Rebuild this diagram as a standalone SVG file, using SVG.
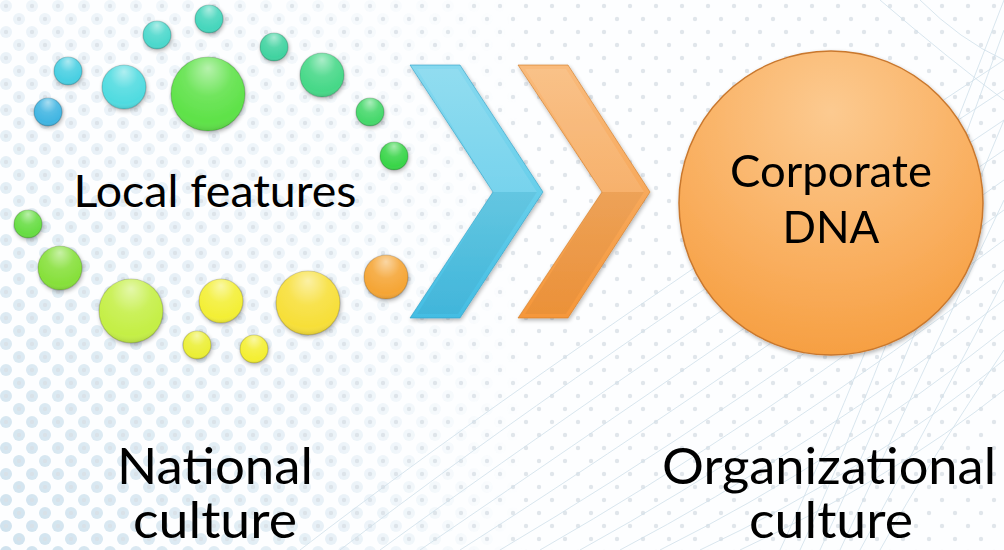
<svg xmlns="http://www.w3.org/2000/svg" width="1004" height="550" viewBox="0 0 1004 550">
  <defs>
    <style>
      .lbl { font-family: "Lato", "Open Sans", "Liberation Sans", sans-serif; fill: #000; }
      .ball { stroke: #000; stroke-opacity: 0.18; stroke-width: 1.2; }
      .gloss { fill: url(#gloss); }
      .bgline { fill: none; stroke: #cfe0ea; stroke-width: 1; opacity: 0.8; }
    </style>
    <!-- background dot textures -->
    <pattern id="bigDots" width="26" height="26" patternUnits="userSpaceOnUse">
      <circle cx="6" cy="6" r="6" fill="#cfe2ee"/>
      <circle cx="19" cy="19" r="6" fill="#cfe2ee"/>
    </pattern>
    <pattern id="smallDots" width="26" height="26" patternUnits="userSpaceOnUse">
      <circle cx="6" cy="6" r="2.2" fill="#d9e0e6"/>
      <circle cx="19" cy="19" r="2.2" fill="#d9e0e6"/>
    </pattern>
    <linearGradient id="fadeL" x1="0" y1="0" x2="1" y2="0">
      <stop offset="0" stop-color="#fff" stop-opacity="1"/>
      <stop offset="0.45" stop-color="#fff" stop-opacity="0.5"/>
      <stop offset="0.75" stop-color="#fff" stop-opacity="0"/>
    </linearGradient>
    <linearGradient id="fadeV" x1="0" y1="0" x2="0" y2="1">
      <stop offset="0" stop-color="#fff" stop-opacity="0.35"/>
      <stop offset="1" stop-color="#fff" stop-opacity="1"/>
    </linearGradient>
    <mask id="bigMask">
      <rect width="700" height="550" fill="url(#fadeL)"/>
    </mask>
    <mask id="vMask">
      <rect width="1004" height="550" fill="url(#fadeV)"/>
    </mask>
    <!-- sphere highlight -->
    <radialGradient id="gloss" cx="0.5" cy="0.3" r="0.7" fx="0.5" fy="0.15">
      <stop offset="0" stop-color="#fff" stop-opacity="0.55"/>
      <stop offset="0.45" stop-color="#fff" stop-opacity="0.12"/>
      <stop offset="0.85" stop-color="#fff" stop-opacity="0"/>
      <stop offset="1" stop-color="#000" stop-opacity="0.12"/>
    </radialGradient>
    <linearGradient id="blueG" x1="0" y1="0" x2="0" y2="1">
      <stop offset="0" stop-color="#86d9ef"/>
      <stop offset="0.5" stop-color="#68cfeb"/>
      <stop offset="1" stop-color="#43bde3"/>
    </linearGradient>
    <linearGradient id="orangeG" x1="0" y1="0" x2="0" y2="1">
      <stop offset="0" stop-color="#f9bb7c"/>
      <stop offset="0.5" stop-color="#f7a95c"/>
      <stop offset="1" stop-color="#f5973a"/>
    </linearGradient>
    <radialGradient id="dnaG" cx="0.5" cy="0.2" r="0.9">
      <stop offset="0" stop-color="#fcca90"/>
      <stop offset="0.6" stop-color="#f9ad5c"/>
      <stop offset="1" stop-color="#f59a38"/>
    </radialGradient>
    <filter id="shadow" x="-20%" y="-20%" width="140%" height="140%">
      <feGaussianBlur in="SourceAlpha" stdDeviation="2"/>
      <feOffset dx="1" dy="2" result="b"/>
      <feComponentTransfer><feFuncA type="linear" slope="0.3"/></feComponentTransfer>
      <feMerge><feMergeNode/><feMergeNode in="SourceGraphic"/></feMerge>
    </filter>
  </defs>

  <!-- background -->
  <rect width="1004" height="550" fill="#fdfeff"/>
  <g mask="url(#vMask)">
    <rect width="700" height="550" fill="url(#bigDots)" mask="url(#bigMask)"/>
  </g>
  <rect width="1004" height="550" fill="url(#smallDots)" opacity="0.8"/>
  <g id="sweepLines">
    <path class="bgline" d="M300 550 Q520 380 1004 60"/>
    <path class="bgline" d="M340 550 Q560 380 1004 90"/>
    <path class="bgline" d="M380 550 Q600 390 1004 120"/>
    <path class="bgline" d="M420 550 Q640 400 1004 150"/>
    <path class="bgline" d="M460 550 Q680 410 1004 180"/>
    <path class="bgline" d="M500 550 Q720 420 1004 210"/>
    <path class="bgline" d="M540 550 Q750 430 1004 240"/>
    <path class="bgline" d="M580 550 Q780 440 1004 270"/>
    <path class="bgline" d="M620 550 Q810 450 1004 300"/>
    <path class="bgline" d="M660 550 Q840 460 1004 330"/>
    <path class="bgline" d="M700 550 Q870 470 1004 360"/>
    <path class="bgline" d="M740 550 Q890 480 1004 390"/>
    <path class="bgline" d="M780 550 Q850 400 1004 0"/>
    <path class="bgline" d="M800 550 Q870 400 1004 30"/>
    <path class="bgline" d="M820 550 Q880 420 1004 120"/>
    <path class="bgline" d="M840 550 Q900 420 1004 200"/>
    <path class="bgline" d="M860 550 Q920 440 1004 280"/>
    <path class="bgline" d="M880 550 Q930 460 1004 350"/>
    <path class="bgline" d="M920 0 Q960 40 1004 60"/>
    <path class="bgline" d="M880 0 Q950 60 1004 100"/>
  </g>

  <!-- ring of spheres -->
  <g id="localFeatures" filter="url(#shadow)">
    <g id="ball01"><circle class="ball" cx="209" cy="19" r="14" fill="#45d6bc"/><circle class="gloss" cx="209" cy="19" r="14"/></g>
    <g id="ball02"><circle class="ball" cx="157" cy="35" r="14" fill="#4bd8cc"/><circle class="gloss" cx="157" cy="35" r="14"/></g>
    <g id="ball03"><circle class="ball" cx="274" cy="47" r="14" fill="#40d3a0"/><circle class="gloss" cx="274" cy="47" r="14"/></g>
    <g id="ball04"><circle class="ball" cx="68" cy="71" r="14" fill="#48cfe2"/><circle class="gloss" cx="68" cy="71" r="14"/></g>
    <g id="ball05"><circle class="ball" cx="124" cy="87" r="22" fill="#4fdbe0"/><circle class="gloss" cx="124" cy="87" r="22"/></g>
    <g id="ball06"><circle class="ball" cx="208" cy="94" r="37" fill="#5ee248"/><circle class="gloss" cx="208" cy="94" r="37"/></g>
    <g id="ball07"><circle class="ball" cx="322" cy="75" r="22" fill="#45d887"/><circle class="gloss" cx="322" cy="75" r="22"/></g>
    <g id="ball08"><circle class="ball" cx="48" cy="112" r="14" fill="#40b5e2"/><circle class="gloss" cx="48" cy="112" r="14"/></g>
    <g id="ball09"><circle class="ball" cx="370" cy="112" r="14" fill="#45d86a"/><circle class="gloss" cx="370" cy="112" r="14"/></g>
    <g id="ball10"><circle class="ball" cx="394" cy="156" r="14" fill="#38d548"/><circle class="gloss" cx="394" cy="156" r="14"/></g>
    <g id="ball11"><circle class="ball" cx="28" cy="224" r="14" fill="#66dd42"/><circle class="gloss" cx="28" cy="224" r="14"/></g>
    <g id="ball12"><circle class="ball" cx="60" cy="268" r="22" fill="#86e03a"/><circle class="gloss" cx="60" cy="268" r="22"/></g>
    <g id="ball13"><circle class="ball" cx="131" cy="311" r="32" fill="#c4ef45"/><circle class="gloss" cx="131" cy="311" r="32"/></g>
    <g id="ball14"><circle class="ball" cx="221" cy="301" r="22" fill="#f3ef35"/><circle class="gloss" cx="221" cy="301" r="22"/></g>
    <g id="ball15"><circle class="ball" cx="308" cy="303" r="32" fill="#f7df38"/><circle class="gloss" cx="308" cy="303" r="32"/></g>
    <g id="ball16"><circle class="ball" cx="386" cy="277" r="22" fill="#f5a535"/><circle class="gloss" cx="386" cy="277" r="22"/></g>
    <g id="ball17"><circle class="ball" cx="197" cy="345" r="14" fill="#ebef35"/><circle class="gloss" cx="197" cy="345" r="14"/></g>
    <g id="ball18"><circle class="ball" cx="254" cy="349" r="14" fill="#f4ef32"/><circle class="gloss" cx="254" cy="349" r="14"/></g>
  </g>
  <g id="localFeaturesLabel">
    <text class="lbl" x="215" y="207" font-size="44" text-anchor="middle" textLength="283" lengthAdjust="spacingAndGlyphs">Local features</text>
  </g>

  <!-- chevron arrows -->
  <g id="connectors" filter="url(#shadow)">
    <g id="chevronBlue">
      <polygon points="410,65 460,65 543,192 460,318 410,318 493,192" fill="url(#blueG)" stroke="#2f9fc4" stroke-opacity="0.6" stroke-width="1"/>
      <polygon points="417,69 458,69 537,192 493,192" fill="#fff" opacity="0.1"/>
      <polygon points="493,192 537,192 458,314 417,314" fill="#000" opacity="0.04"/>
    </g>
    <g id="chevronOrange">
      <polygon points="518,65 568,65 650,192 568,318 518,318 602,192" fill="url(#orangeG)" stroke="#d07a25" stroke-opacity="0.6" stroke-width="1"/>
      <polygon points="525,69 566,69 644,192 602,192" fill="#fff" opacity="0.1"/>
      <polygon points="602,192 644,192 566,314 525,314" fill="#000" opacity="0.04"/>
    </g>
  </g>

  <!-- corporate DNA circle -->
  <g id="corporateDNA" filter="url(#shadow)">
    <circle cx="831" cy="203" r="152" fill="url(#dnaG)" stroke="#c9782e" stroke-width="1.5"/>
    <text class="lbl" x="831" y="187" font-size="44" text-anchor="middle" textLength="202" lengthAdjust="spacingAndGlyphs">Corporate</text>
    <text class="lbl" x="831" y="243" font-size="44" text-anchor="middle">DNA</text>
  </g>

  <!-- bottom captions -->
  <g id="nationalCulture">
    <text class="lbl" x="215" y="484" font-size="50" text-anchor="middle" textLength="196" lengthAdjust="spacingAndGlyphs">National</text>
    <text class="lbl" x="215" y="538" font-size="50" text-anchor="middle" textLength="164" lengthAdjust="spacingAndGlyphs">culture</text>
  </g>
  <g id="organizationalCulture">
    <text class="lbl" x="829" y="484" font-size="50" text-anchor="middle" textLength="334" lengthAdjust="spacingAndGlyphs">Organizational</text>
    <text class="lbl" x="831" y="538" font-size="50" text-anchor="middle" textLength="164" lengthAdjust="spacingAndGlyphs">culture</text>
  </g>
</svg>
